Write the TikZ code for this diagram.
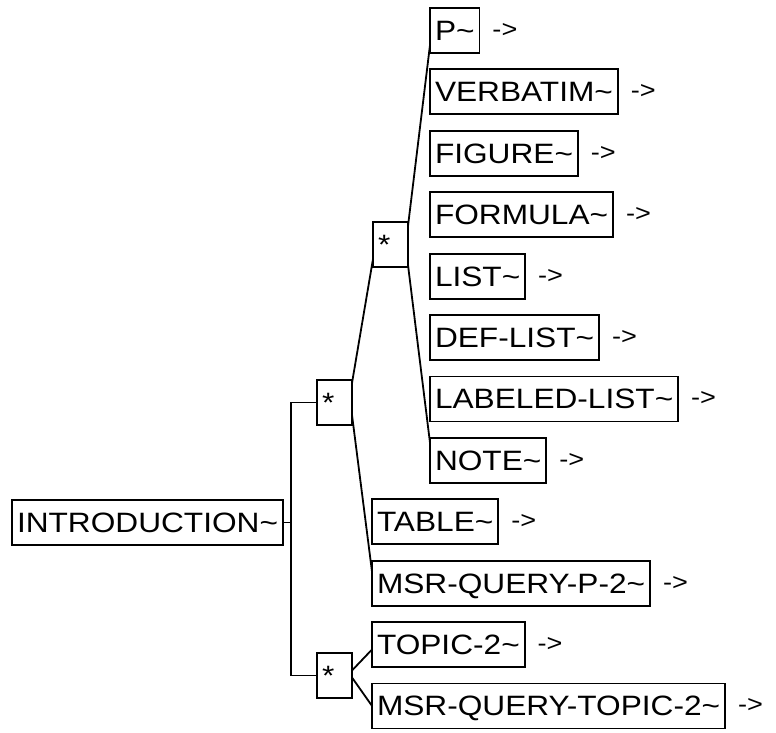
\documentclass[tikz,border=0pt]{standalone}
\usepackage{fontspec}
\setsansfont{Liberation Sans}[FakeStretch=1.13]
\usetikzlibrary{positioning}

\begin{document}
\begin{tikzpicture}[x=1pt,y=-1pt,line width=1.8pt,
          box/.style={draw,font=\sffamily\fontsize{28}{28}\selectfont,inner xsep=5pt,inner ysep=0pt,outer sep=0pt,
            minimum height=45pt,text height=20pt,text depth=0pt,anchor=north west},
          starbox/.style={box,minimum width=35pt,text width=25pt,align=left},
          tail/.style={font=\sffamily\fontsize{24}{24}\selectfont,inner sep=0pt,right=12pt of #1}]
          \useasboundingbox (0,0) rectangle (776,733);
          \node[box](intro) at (12,500) {INTRODUCTION\textasciitilde};
          \node[starbox](s1) at (317,380) {*};
          \node[starbox](s3) at (317,653) {*};
          \node[starbox](s2) at (373,222) {*};
          \node[box](p) at (430,8) {P\textasciitilde};
          \node[box,below right=16.4pt and 0pt of p.south west](verb){VERBATIM\textasciitilde};
          \node[box,below right=16.4pt and 0pt of verb.south west](fig){FIGURE\textasciitilde};
          \node[box,below right=16.4pt and 0pt of fig.south west](form){FORMULA\textasciitilde};
          \node[box,below right=16.4pt and 0pt of form.south west](list){LIST\textasciitilde};
          \node[box,below right=16.4pt and 0pt of list.south west](deflist){DEF-LIST\textasciitilde};
          \node[box,below right=16.4pt and 0pt of deflist.south west](lablist){LABELED-LIST\textasciitilde};
          \node[box,below right=16.4pt and 0pt of lablist.south west](note){NOTE\textasciitilde};
          \node[box,below right=16.4pt and -58pt of note.south west](table){TABLE\textasciitilde};
          \node[box,below right=16.4pt and 0pt of table.south west](msrp){MSR-QUERY-P-2\textasciitilde};
          \node[box,below right=16.4pt and 0pt of msrp.south west](topic){TOPIC-2\textasciitilde};
          \node[box,below right=16.4pt and 0pt of topic.south west](msrt){MSR-QUERY-TOPIC-2\textasciitilde};
          \foreach \n in {p,verb,fig,form,list,deflist,lablist,note,table,msrp,topic,msrt}
            \node[tail=\n](\n-tail){->};
          % tree lines
          \coordinate (fork) at ([xshift=8pt]intro.east);
          \draw (intro.east)--(fork);
          \draw (s1.west) -| (fork) |- (s3.west);
          \draw ([yshift=-3pt]s1.north east)--([yshift=8pt]s2.south west);
          \draw ([yshift=10pt]s1.south east)--([yshift=-11pt]msrp.north west);
          \draw ([yshift=-4pt]s2.north east)--([yshift=8pt]p.south west);
          \draw ([yshift=2pt]s2.south east)--([yshift=-5pt]note.north west);
          \draw ([yshift=5pt]s3.east)--([yshift=-5pt]topic.west);
          \draw ([yshift=-2pt]s3.east)--(msrt.west);
        \end{tikzpicture}
\end{document}
